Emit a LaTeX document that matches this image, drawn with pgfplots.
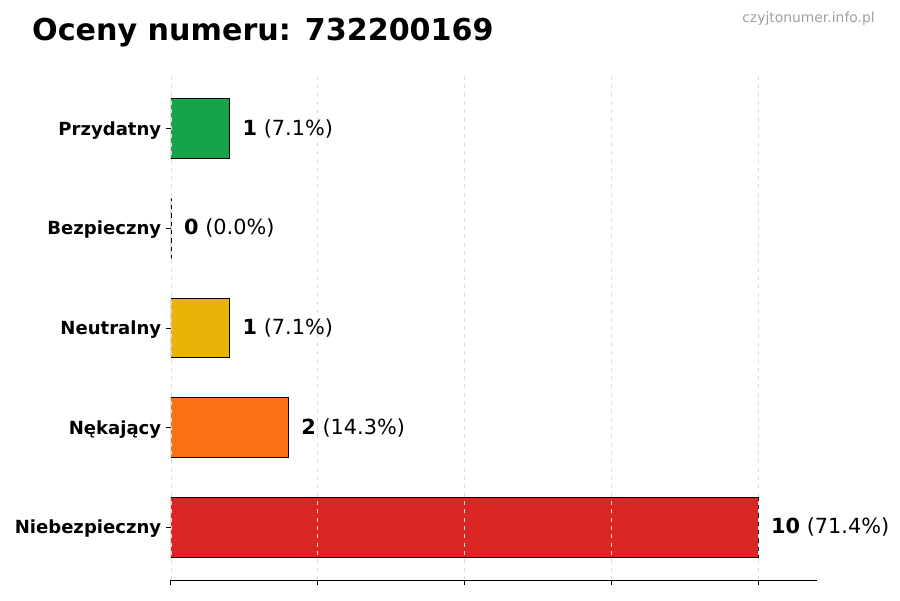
\documentclass[border=0pt]{standalone}
\usepackage{pgfplots}
\pgfplotsset{compat=1.18}
\usepackage{fontspec}
\setmainfont{DejaVu Sans}

\definecolor{cgreen}{RGB}{22,163,74}
\definecolor{cyellow}{RGB}{234,179,8}
\definecolor{corange}{RGB}{249,115,22}
\definecolor{cred}{RGB}{220,38,38}
\definecolor{cgrid}{RGB}{218,218,218}
\definecolor{cwater}{RGB}{160,160,160}

\begin{document}
\begin{tikzpicture}
\useasboundingbox (0,0) rectangle (648pt,432pt);
\begin{axis}[
  at={(123.1pt,14.4pt)}, anchor=south west,
  scale only axis, width=465.1pt, height=362.9pt,
  xbar, bar shift=0pt, bar width=0.6,
  xmin=0, xmax=11, ymin=-0.53, ymax=4.53,
  axis x line*=bottom, axis y line*=left,
  y axis line style={draw=none},
  x axis line style={line width=0.7pt},
  tick align=outside, tick style={black, line width=0.7pt},
  major tick length=3.5pt,
  xtick={0,2.5,5,7.5,10}, xticklabels={},
  ytick={0,1,2,3,4},
  yticklabels={Niebezpieczny,Nękający,Neutralny,Bezpieczny,Przydatny},
  yticklabel style={font=\bfseries\fontsize{13}{15}\selectfont, yshift=-1.2pt},
  xmajorgrids, grid style={cgrid, dashed, line width=0.5pt},
  axis on top,
  every axis plot/.append style={draw=black, line width=0.7pt},
  nodes near coords style={anchor=west, inner sep=0pt, xshift=9pt,
    font=\fontsize{15}{18}\selectfont, text=black},
]
\addplot[fill=cred, nodes near coords={\textbf{10} (71.4\%)}] coordinates {(10,0)};
\addplot[fill=corange, nodes near coords={\textbf{2} (14.3\%)}] coordinates {(2,1)};
\addplot[fill=cyellow, nodes near coords={\textbf{1} (7.1\%)}] coordinates {(1,2)};
\addplot[fill=gray, line width=1pt, nodes near coords={\textbf{0} (0.0\%)}] coordinates {(0,3)};
\addplot[fill=cgreen, nodes near coords={\textbf{1} (7.1\%)}] coordinates {(1,4)};
\end{axis}
\node[anchor=base west, inner sep=0pt, font=\bfseries\fontsize{21.7}{26}\selectfont] at (23pt,403pt) {Oceny numeru: 732200169};
\node[anchor=base east, inner sep=0pt, text=cwater, font=\fontsize{10}{12}\selectfont] at (630pt,416pt) {czyjtonumer.info.pl};
\end{tikzpicture}
\end{document}
